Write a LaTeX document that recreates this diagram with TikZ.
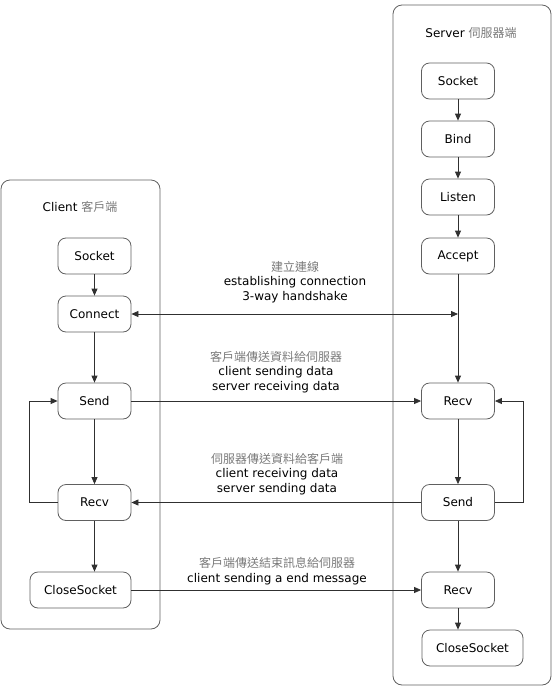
\documentclass[tikz,border=0pt]{standalone}
\usepackage{fontspec}
\setmainfont{DejaVu Sans}
\newfontfamily\cjk{Noto Sans CJK TC}
\usetikzlibrary{arrows.meta}
\definecolor{boxgray}{HTML}{606060}
\definecolor{linegray}{HTML}{303030}
\definecolor{cjkgray}{HTML}{7A7A7A}
\newcommand{\zh}[1]{{\cjk\color{cjkgray}#1}}
\tikzset{
  box/.style={draw=boxgray, line width=0.8pt, rounded corners=8pt, minimum width=73pt, minimum height=36pt, inner sep=0pt, font=\fontsize{12}{14}\selectfont},
  widebox/.style={box, minimum width=101pt},
  conn/.style={draw=linegray, line width=0.8pt, -{Triangle[length=7pt,width=6pt]}},
  lane/.style={draw=boxgray, line width=0.8pt, rounded corners=9pt},
  lbl/.style={align=center, font=\fontsize{12}{14.5}\selectfont, inner sep=0pt},
}
\begin{document}
\begin{tikzpicture}[x=1pt,y=-1pt]
\useasboundingbox (0,0) rectangle (553,689);
% lanes
\draw[lane] (1,180) rectangle (160,629);
\draw[lane] (393,5) rectangle (551,685);
\node[lbl] (ctitle) at (80,207) {Client \zh{客戶端}};
\node[lbl] (stitle) at (471,33) {Server \zh{伺服器端}};
% client nodes
\node[box] (cS) at (94.5,256) {Socket};
\node[box] (cC) at (94.5,314) {Connect};
\node[box] (cSe) at (94.5,401) {Send};
\node[box] (cR) at (94.5,502.5) {Recv};
\node[widebox] (cCl) at (80.5,590) {CloseSocket};
% server nodes
\node[box] (sS) at (458,81) {Socket};
\node[box] (sB) at (458,139) {Bind};
\node[box] (sL) at (458,197) {Listen};
\node[box] (sA) at (458,256) {Accept};
\node[box] (sR) at (458,401) {Recv};
\node[box] (sSe) at (458,502.5) {Send};
\node[box] (sR2) at (458,590) {Recv};
\node[widebox] (sCl) at (472.5,648) {CloseSocket};
% loop coordinates
\coordinate (cloop) at (29,0);
\coordinate (sloop) at (523,0);
% client arrows
\draw[conn] (cS) -- (cC);
\draw[conn] (cC) -- (cSe);
\draw[conn] (cSe) -- (cR);
\draw[conn] (cR.south) -- (cR.south |- cCl.north);
\draw[conn] (cR.west) -| (cloop |- cSe.west) -- (cSe.west);
% server arrows
\draw[conn] (sS) -- (sB);
\draw[conn] (sB) -- (sL);
\draw[conn] (sL) -- (sA);
\draw[conn] (sA) -- (sR);
\draw[conn] (sR) -- (sSe);
\draw[conn] (sSe) -- (sR2);
\draw[conn] (sR2.south) -- (sR2.south |- sCl.north);
\draw[conn] (sSe.east) -| (sloop |- sR.east) -- (sR.east);
% cross arrows
\coordinate (hs) at (sA.south |- cC.east);
\draw[conn, {Triangle[length=7pt,width=6pt]}-{Triangle[length=7pt,width=6pt]}] (cC.east) -- (hs);
\draw[conn] (cSe.east) -- (sR.west);
\draw[conn] (sSe.west) -- (cR.east);
\draw[conn] (cCl.east) -- (sR2.west);
% labels
\node[lbl] (l1) at (295,282) {\zh{建立連線}\\establishing connection\\3-way handshake};
\node[lbl] (l2) at (276,372) {\zh{客戶端傳送資料給伺服器}\\client sending data\\server receiving data};
\node[lbl] (l3) at (277,474) {\zh{伺服器傳送資料給客戶端}\\client receiving data\\server sending data};
\node[lbl] (l4) at (277,571) {\zh{客戶端傳送結束訊息給伺服器}\\client sending a end message};
\end{tikzpicture}
\end{document}
